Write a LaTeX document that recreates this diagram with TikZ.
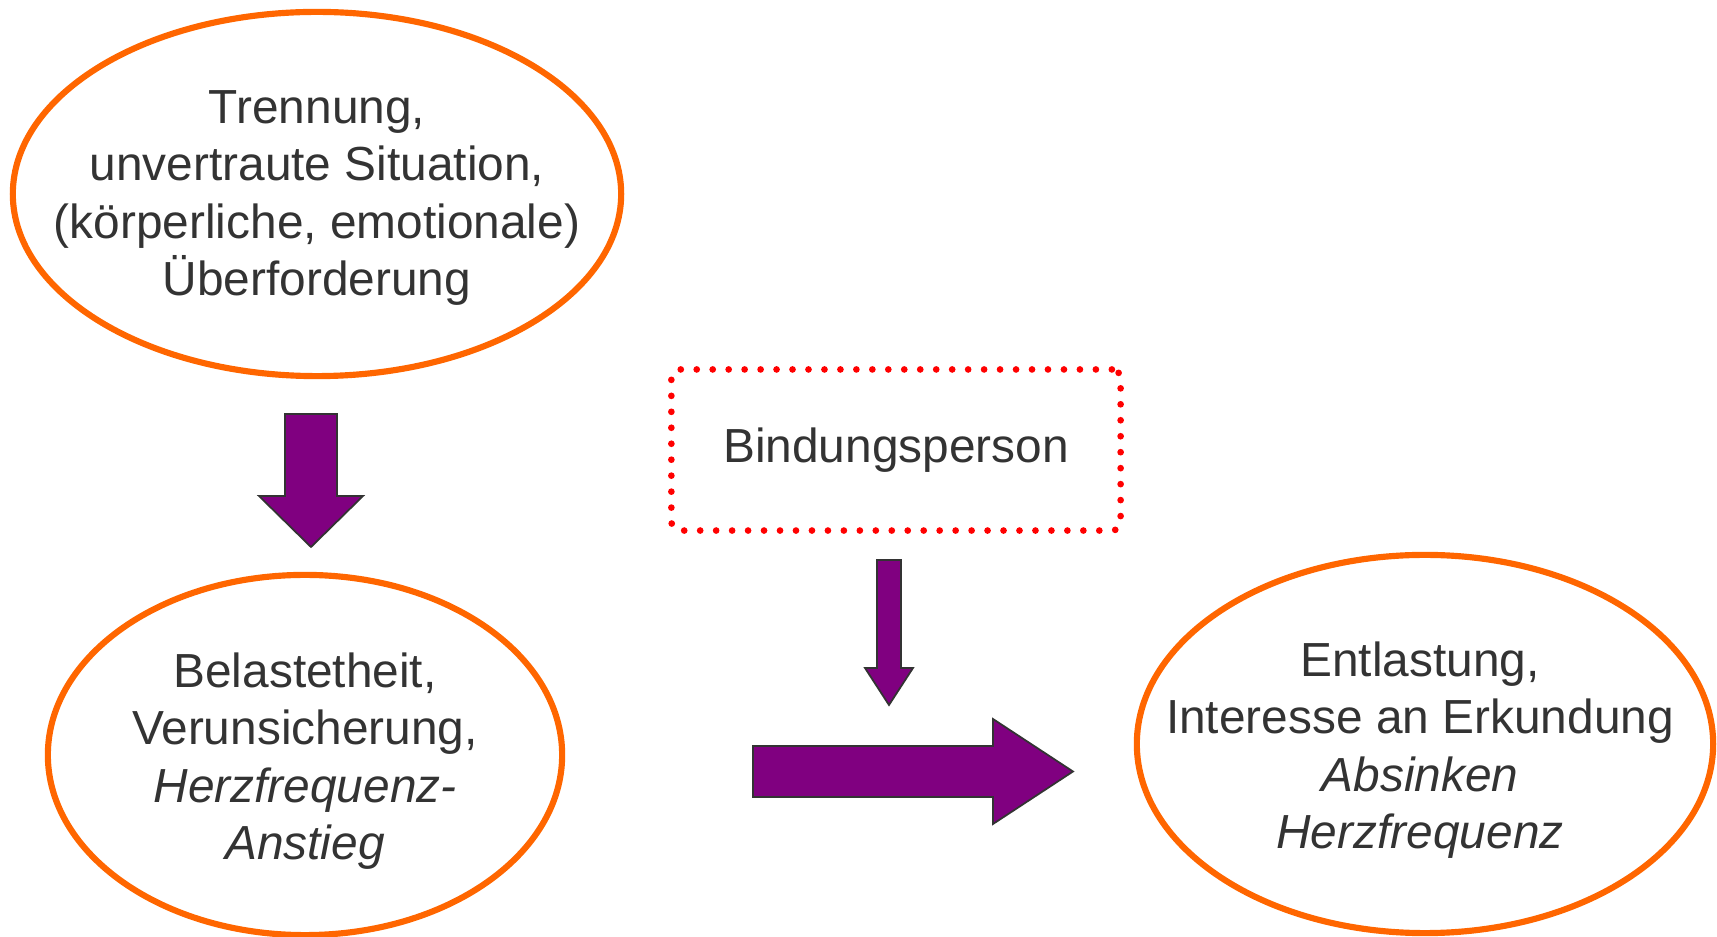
\documentclass[tikz,border=0pt]{standalone}
\usepackage{fontspec}
\setmainfont{Liberation Sans}
\usepackage{tikz}

\definecolor{ovalorange}{HTML}{FF6600}
\definecolor{arrowpurple}{HTML}{800080}
\definecolor{textgray}{HTML}{333333}
\tikzset{
  txt/.style={align=center, text=textgray, font=\fontsize{13.6}{16.3}\selectfont},
  oval/.style={draw=ovalorange, line width=1.75pt},
  blockarrow/.style={fill=arrowpurple, draw=textgray, line width=0.5pt, line join=miter},
  bindbox/.style={txt, draw=red, line width=1.9pt, dash pattern=on 0pt off 4.54pt,
    line cap=round, rounded corners=2.5pt, minimum width=4.49cm, minimum height=1.61cm}
}

\begin{document}
\begin{tikzpicture}[x=0.01cm, y=-0.01cm]
            \useasboundingbox (0,0) rectangle (1717,937);
            \node[txt] (trennung) at (317,198) {Trennung,\\ unvertraute Situation,\\ (körperliche, emotionale)\\ Überforderung};
            \node[txt] (belastet) at (305,761) {Belastetheit,\\ Verunsicherung,\\ \textit{Herzfrequenz-}\\ \textit{Anstieg}};
            \node[txt] (entlastung) at (1420,750) {Entlastung,\\ Interesse an Erkundung\\ \textit{Absinken}\\ \textit{Herzfrequenz}};
            \node[bindbox] (bindung) at (896,450) {Bindungsperson};
            \draw[oval] (317,194) ellipse [x radius=3.04cm, y radius=1.82cm];
            \draw[oval] (305,755) ellipse [x radius=2.57cm, y radius=1.80cm];
            \draw[oval] (1425,744) ellipse [x radius=2.88cm, y radius=1.89cm];
            \filldraw[blockarrow] (285,414) -- (337,414) -- (337,496) -- (363,496) -- (311,547) -- (259,496) -- (285,496) -- cycle;
            \filldraw[blockarrow] (877,560) -- (901,560) -- (901,668) -- (913,668) -- (889,705) -- (865,668) -- (877,668) -- cycle;
            \filldraw[blockarrow] (753,746) -- (993,746) -- (993,719) -- (1073,771.5) -- (993,824) -- (993,797) -- (753,797) -- cycle;
        \end{tikzpicture}
\end{document}
